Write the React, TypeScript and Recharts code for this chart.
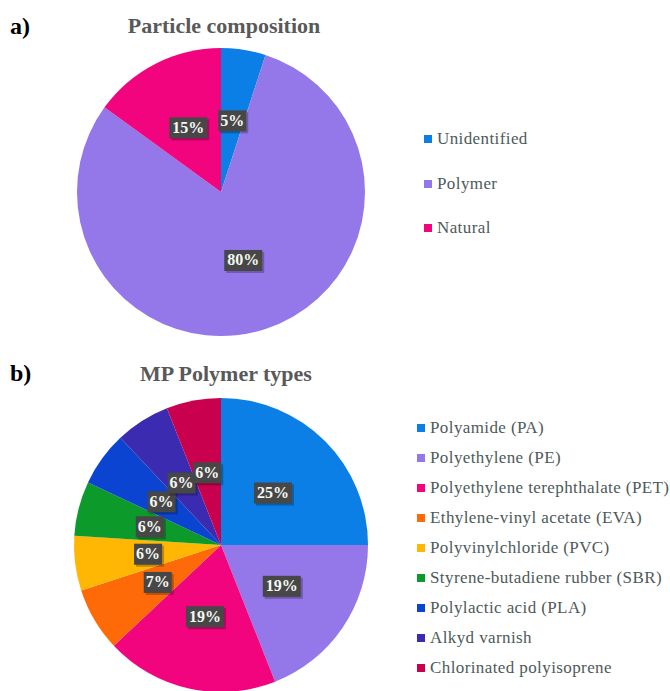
import React from 'react';
import { PieChart, Pie, Cell, Legend } from 'recharts';

const compositionNames = ['Unidentified', 'Polymer', 'Natural'];
const compositionValues = [5, 80, 15];
const compositionColors = ['#0b7fe6', '#9478ea', '#f2047e'];

const polymerNames = [
  'Polyamide (PA)',
  'Polyethylene (PE)',
  'Polyethylene terephthalate (PET)',
  'Ethylene-vinyl acetate (EVA)',
  'Polyvinylchloride (PVC)',
  'Styrene-butadiene rubber (SBR)',
  'Polylactic acid (PLA)',
  'Alkyd varnish',
  'Chlorinated polyisoprene',
];
const polymerValues = [25, 19, 19, 7, 6, 6, 6, 6, 6];
const polymerColors = ['#0b7fe6', '#9478ea', '#f2047e', '#ff6a08', '#ffb703', '#0c9a2a', '#0a44d0', '#3a2bb0', '#c9004d'];

const compositionData = compositionNames.map((name, i) => ({ name, value: compositionValues[i] }));
const polymerData = polymerNames.map((name, i) => ({ name, value: polymerValues[i] }));

const SERIF = '"Liberation Serif", "Times New Roman", serif';
const RAD = Math.PI / 180;

const renderLabel = (props: any) => {
  const { cx, cy, midAngle, outerRadius, value } = props;
  const r = outerRadius * 0.5;
  const x = cx + r * Math.cos(-midAngle * RAD);
  const y = cy + r * Math.sin(-midAngle * RAD);
  const txt = `${value}%`;
  const w = txt.length === 2 ? 28 : 38;
  const h = 21;
  return (
    <g>
      <rect x={x - w / 2 + 2} y={y - h / 2 + 2} width={w} height={h} fill="#000" opacity={0.25} />
      <rect x={x - w / 2} y={y - h / 2} width={w} height={h} fill="#474747" />
      <text x={x} y={y + 5} textAnchor="middle" fill="#f4f8f2" fontFamily={SERIF} fontWeight="bold" fontSize={16}>
        {txt}
      </text>
    </g>
  );
};

const makeLegend = (names: string[], colors: string[], step: number, fontSize: number) => () => (
  <div style={{ position: 'absolute', left: 0, top: 0, fontFamily: SERIF }}>
    {names.map((n, i) => (
      <div key={n} style={{ position: 'absolute', left: 0, top: i * step - 10, height: 20, display: 'flex', alignItems: 'center', whiteSpace: 'nowrap' }}>
        <span style={{ display: 'inline-block', width: 8, height: 8, background: colors[i], marginRight: 5 }} />
        <span style={{ fontSize, color: '#4d5a5a', letterSpacing: 0.4 }}>{n}</span>
      </div>
    ))}
  </div>
);

export default function App() {
  return (
    <div style={{ position: 'absolute', left: 0, top: 0, width: 670, height: 691, background: '#fff', overflow: 'hidden' }}>
      <div style={{ position: 'absolute', left: 0, top: 0 }}>
        <PieChart width={670} height={350} margin={{ top: 0, right: 0, bottom: 0, left: 0 }}>
          <Pie
            data={compositionData}
            dataKey="value"
            nameKey="name"
            cx={221}
            cy={192}
            outerRadius={144}
            startAngle={90}
            endAngle={-270}
            stroke="none"
            label={renderLabel}
            labelLine={false}
            isAnimationActive={false}
          >
            {compositionData.map((d, i) => (
              <Cell key={d.name} fill={compositionColors[i]} />
            ))}
          </Pie>
          <Legend content={makeLegend(compositionNames, compositionColors, 44.5, 17)} wrapperStyle={{ position: 'absolute', left: 424, top: 139, width: 240, height: 1 }} />
        </PieChart>
      </div>
      <div style={{ position: 'absolute', left: 0, top: 350 }}>
        <PieChart width={670} height={341} margin={{ top: 0, right: 0, bottom: 0, left: 0 }}>
          <Pie
            data={polymerData}
            dataKey="value"
            nameKey="name"
            cx={221}
            cy={195}
            outerRadius={147}
            startAngle={90}
            endAngle={-270}
            stroke="none"
            label={renderLabel}
            labelLine={false}
            isAnimationActive={false}
          >
            {polymerData.map((d, i) => (
              <Cell key={d.name} fill={polymerColors[i]} />
            ))}
          </Pie>
          <Legend content={makeLegend(polymerNames, polymerColors, 30, 17)} wrapperStyle={{ position: 'absolute', left: 417, top: 78, width: 253, height: 1 }} />
        </PieChart>
      </div>
      <svg width={670} height={691} style={{ position: 'absolute', left: 0, top: 0, pointerEvents: 'none' }}>
        <text x={10} y={34} fontFamily={SERIF} fontWeight="bold" fontSize={24} fill="#000">a)</text>
        <text x={224} y={33} textAnchor="middle" fontFamily={SERIF} fontWeight="bold" fontSize={22} fill="#595959">Particle composition</text>
        <text x={10} y={381} fontFamily={SERIF} fontWeight="bold" fontSize={24} fill="#000">b)</text>
        <text x={226} y={381} textAnchor="middle" fontFamily={SERIF} fontWeight="bold" fontSize={22} fill="#595959">MP Polymer types</text>
      </svg>
    </div>
  );
}
